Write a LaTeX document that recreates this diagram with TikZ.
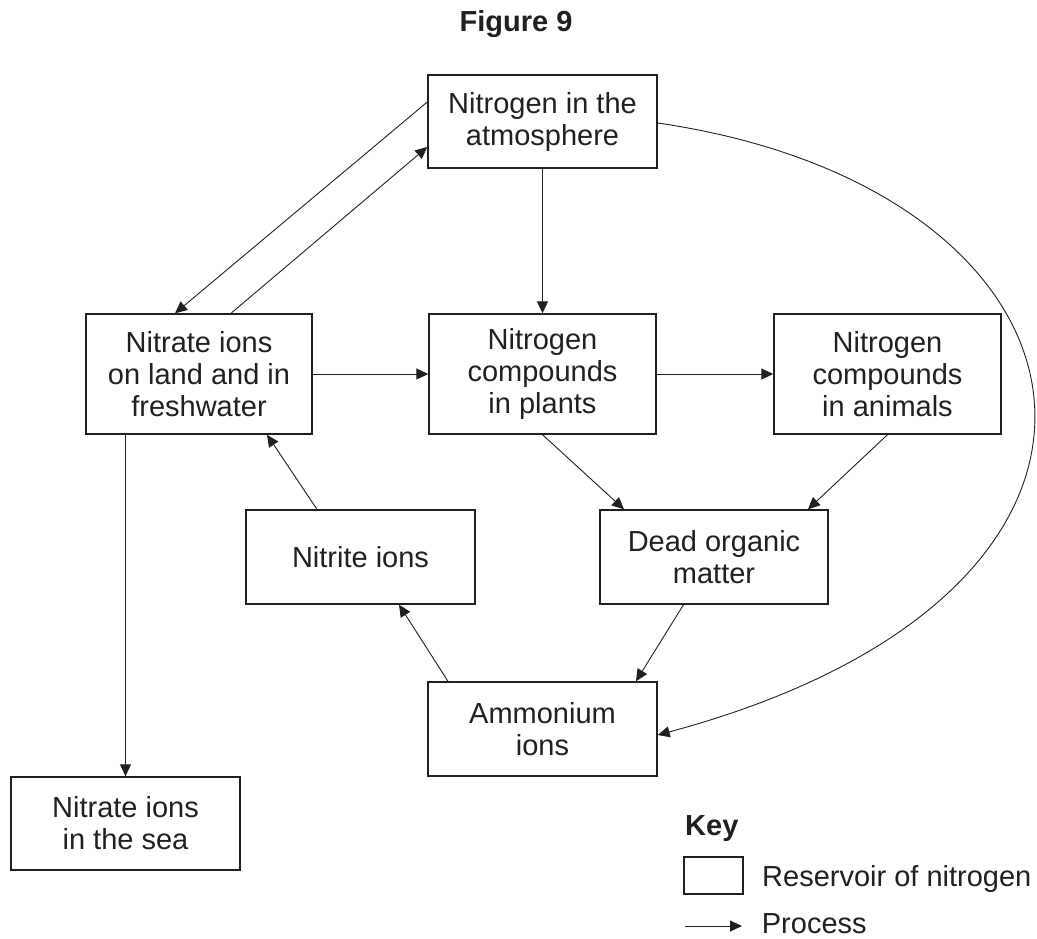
\documentclass[tikz,border=0pt]{standalone}
\usepackage{fontspec}
\setmainfont{Liberation Sans}
\usetikzlibrary{arrows.meta}
\definecolor{ink}{RGB}{35,31,32}
\tikzset{
  reservoir/.style={draw=ink, line width=1.4pt, text=ink, inner sep=0pt, align=center,
    font=\fontsize{29}{32}\selectfont},
  process/.style={draw=ink, line width=0.9pt, -{Triangle[length=12pt,width=11pt]}},
  label/.style={text=ink, inner sep=0pt, font=\fontsize{29}{32}\selectfont},
  boldlabel/.style={text=ink, inner sep=0pt, font=\fontsize{29}{32}\selectfont\bfseries}
}
\begin{document}
\begin{tikzpicture}[x=1pt,y=-1pt]
\useasboundingbox (0,0) rectangle (1037,938);
% title
\node[boldlabel, anchor=base] (title) at (516,31.7) {Figure 9};
% reservoirs
\node[reservoir, minimum width=229pt, minimum height=93pt] (atm) at (542.5,121.5) {Nitrogen in the\\atmosphere};
\node[reservoir, minimum width=226pt, minimum height=120pt] (land) at (199,374) {Nitrate ions\\on land and in\\freshwater};
\node[reservoir, minimum width=227pt, minimum height=120pt] (plants) at (542.5,374) {Nitrogen\\compounds\\in plants};
\node[reservoir, minimum width=227pt, minimum height=120pt] (animals) at (887.5,374) {Nitrogen\\compounds\\in animals};
\node[reservoir, minimum width=228pt, minimum height=94pt] (dead) at (714,557) {Dead organic\\matter};
\node[reservoir, minimum width=229pt, minimum height=94pt] (nitrite) at (360.5,557) {Nitrite ions};
\node[reservoir, minimum width=229pt, minimum height=94pt] (amm) at (542.5,729) {Ammonium\\ions};
\node[reservoir, minimum width=229pt, minimum height=93pt] (sea) at (125.5,823.5) {Nitrate ions\\in the sea};
% processes
\draw[process] (atm.south) -- (plants.north);
\draw[process] (land.east) -- (plants.west);
\draw[process] (plants.east) -- (animals.west);
\draw[process] ([yshift=19.5pt]atm.west) -- ([xshift=-24pt]land.north);
\draw[process] ([xshift=32pt]land.north) -- ([yshift=-25.5pt]atm.west);
\draw[process] ([xshift=-43.5pt]nitrite.north) -- ([xshift=68pt]land.south);
\draw[process] (plants.south) -- ([xshift=-90pt]dead.north);
\draw[process] (animals.south) -- ([xshift=94pt]dead.north);
\draw[process] ([xshift=-30.5pt]dead.south) -- ([xshift=93.5pt]amm.north);
\draw[process] ([xshift=-94.5pt]amm.north) -- ([xshift=38.5pt]nitrite.south);
\draw[process] (sea.north |- land.south) -- (sea.north);
\draw[process] ([yshift=-1.5pt]atm.east) .. controls +(460,67) and +(540,-145) .. ([yshift=-6pt]amm.east);
% key
\node[boldlabel, anchor=base west] (key) at (685,835) {Key};
\node[draw=ink, line width=1.4pt, minimum width=59pt, minimum height=37pt, inner sep=0pt] (keybox) at (713.5,875.5) {};
\node[label, anchor=base west] (keyres) at (762,886.7) {Reservoir of nitrogen};
\node[label, anchor=base west] (keyproc) at (761.7,933.5) {Process};
\coordinate (kpa) at (685,926);
\coordinate (kpb) at (742,926);
\draw[process] (kpa) -- (kpb);
\end{tikzpicture}
\end{document}
